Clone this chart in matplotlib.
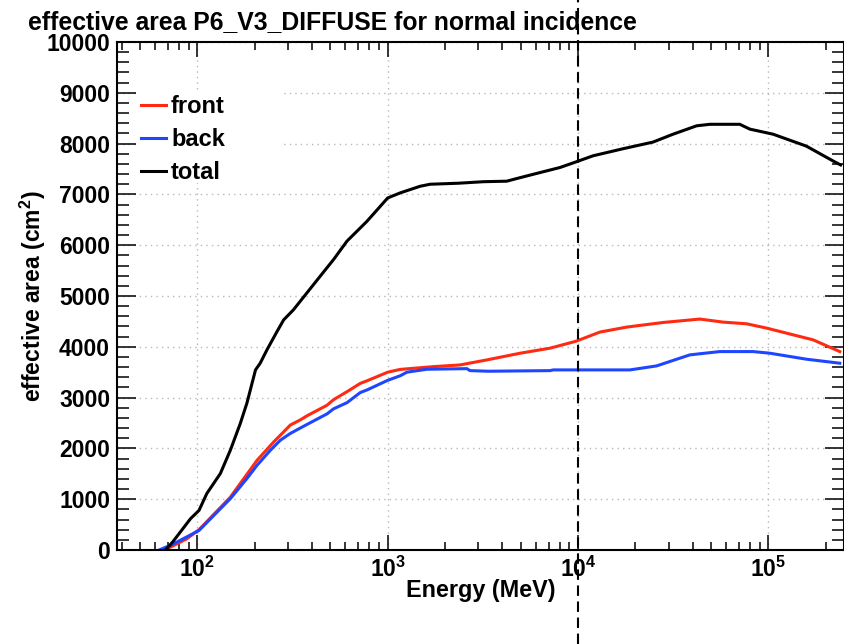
import matplotlib
matplotlib.use("Agg")
import matplotlib.pyplot as plt
from matplotlib.ticker import FixedLocator, FuncFormatter, NullFormatter
from matplotlib.patches import Rectangle
import numpy as np

plt.rcParams['font.family'] = ['Liberation Sans', 'DejaVu Sans']
plt.rcParams['font.weight'] = 'bold'
plt.rcParams['mathtext.fontset'] = 'custom'
plt.rcParams['mathtext.rm'] = 'Liberation Sans:bold'
plt.rcParams['mathtext.bf'] = 'Liberation Sans:bold'
plt.rcParams['mathtext.it'] = 'Liberation Sans:bold:italic'

# ---------------- data (energy in MeV, effective area in cm^2) ----------------
total_E = [68, 74, 92, 102, 112, 132, 149, 168, 182, 202, 214, 232, 262, 284, 320,
           376, 442, 520, 611, 778, 1000, 1164, 1480, 1670, 2350, 3190, 4220, 4970,
           6320, 8050, 9770, 12000, 17300, 24800, 31600, 42000, 49300, 70800, 80000,
           106000, 158600, 218600, 240000]
total_A = [0, 154, 616, 780, 1110, 1505, 1965, 2490, 2890, 3545, 3680, 3940, 4300,
           4530, 4730, 5060, 5390, 5720, 6080, 6470, 6930, 7030, 7160, 7200, 7220,
           7250, 7260, 7330, 7430, 7530, 7640, 7760, 7900, 8030, 8185, 8350, 8380,
           8380, 8285, 8185, 7950, 7660, 7580]

front_E = [65, 72, 88, 102, 149, 206, 252, 308, 347, 376, 480, 520, 611, 718, 778,
           1000, 1164, 1740, 2400, 3320, 4970, 7130, 9770, 13040, 18030, 28050,
           43650, 57900, 76900, 98000, 135000, 172000, 237500]
front_A = [0, 55, 221, 400, 1040, 1767, 2129, 2460, 2560, 2640, 2850, 2960, 3116,
           3280, 3330, 3500, 3555, 3610, 3643, 3742, 3874, 3973, 4110, 4290, 4388,
           4479, 4546, 4486, 4453, 4368, 4236, 4137, 3906]

back_E = [63, 75, 102, 122, 149, 182, 206, 242, 273, 308, 347, 376, 480, 520,
          611, 718, 778, 1000, 1164, 1262, 1607, 2606, 2710, 3380, 7134, 7413, 18750,
          25900, 38700, 55600, 83200, 101800, 158600, 237500]
back_A = [0, 122, 385, 681, 1011, 1406, 1669, 1965, 2162, 2295, 2400, 2470, 2680,
          2780, 2900, 3100, 3150, 3340, 3430, 3500, 3558, 3570, 3531, 3519, 3531,
          3545, 3545, 3624, 3841, 3906, 3906, 3874, 3756, 3677]

series_labels = ["front", "back", "total"]
series_colors = ["#ff2a12", "#1f46ff", "#000000"]

title = "effective area P6_V3_DIFFUSE for normal incidence"
xlabel = "Energy (MeV)"
ylabel = r"effective area (cm$^\mathbf{2}$)"
x_major = [1e2, 1e3, 1e4, 1e5]
y_major = list(range(0, 10001, 1000))
marker_E = 1e4

# ---------------- figure ----------------
W, H = 845, 644
fig = plt.figure(figsize=(W / 100, H / 100), dpi=100)
L, R, T, B = 117, 844, 42, 550
ax = fig.add_axes([L / W, 1 - B / H, (R - L) / W, (B - T) / H])
ax.set_xscale('log')
ax.set_xlim(37.8, 2.5e5)
ax.set_ylim(0, 10000)

for E, A, lab, c in zip([front_E, back_E, total_E], [front_A, back_A, total_A],
                        series_labels, series_colors):
    ax.plot(E, A, color=c, lw=2.2, label=lab, zorder=4, solid_joinstyle='miter')

# axes styling
for s in ax.spines.values():
    s.set_linewidth(1.5)
    s.set_zorder(6)

ax.xaxis.set_major_locator(FixedLocator(x_major))
minors = [m * 10 ** d for d in range(1, 6) for m in range(2, 10)]
ax.xaxis.set_minor_locator(FixedLocator(minors))
ax.xaxis.set_major_formatter(FuncFormatter(lambda v, p: r'$\mathbf{10^{%d}}$' % int(round(np.log10(v)))))
ax.xaxis.set_minor_formatter(NullFormatter())
ax.yaxis.set_major_locator(FixedLocator(y_major))
ax.yaxis.set_minor_locator(FixedLocator(list(range(0, 10001, 200))))

ax.tick_params(which='both', direction='in', top=True, right=True, width=1.1,
               labelsize=16.5)
ax.tick_params(axis='x', which='major', length=10.5, pad=5)
ax.tick_params(axis='x', which='minor', length=5.5)
ax.tick_params(axis='y', which='major', length=14, pad=5)
ax.tick_params(axis='y', which='minor', length=8.4)
for lab in ax.get_xticklabels() + ax.get_yticklabels():
    lab.set_fontweight('bold')

ax.grid(which='major', linestyle=(0, (1, 3)), color='#b8b8b8', lw=1.0)

# white legend box hiding the grid
bx0, bx1, by0, by1 = 137, 283, 90, 183
ax.add_patch(Rectangle(((bx0 - L) / (R - L), (B - by1) / (B - T)),
                       (bx1 - bx0) / (R - L), (by1 - by0) / (B - T),
                       transform=ax.transAxes, facecolor='white', edgecolor='none',
                       zorder=3))
leg = ax.legend(loc='upper left', bbox_to_anchor=((141 - L) / (R - L), (B - 95) / (B - T)),
                frameon=False, fontsize=17, handlelength=1.05, handletextpad=0.22,
                labelspacing=0.42, borderpad=0, borderaxespad=0)
leg.set_zorder(5)
for t in leg.get_texts():
    t.set_fontweight('bold')

# dashed vertical marker across the whole figure
ax.axvline(marker_E, ymin=-(H - B) / (B - T), ymax=1 + T / (B - T), clip_on=False,
           color='black', lw=1.5, linestyle=(0, (5, 2.7)), zorder=7)

ax.set_xlabel(xlabel, fontsize=16.8, fontweight='bold')
ax.xaxis.set_label_coords(0.5, -(590 - B) / (B - T))
ax.xaxis.label.set_va('center')
ax.set_ylabel(ylabel, fontsize=16.5, fontweight='bold')
ax.yaxis.set_label_coords(-(L - 33) / (R - L), 0.5)
ax.yaxis.label.set_va('center')

fig.text(28 / W, 1 - 29 / H, title, fontsize=17.8, fontweight='bold', ha='left',
         va='baseline')

fig.savefig('out.png', dpi=100)
